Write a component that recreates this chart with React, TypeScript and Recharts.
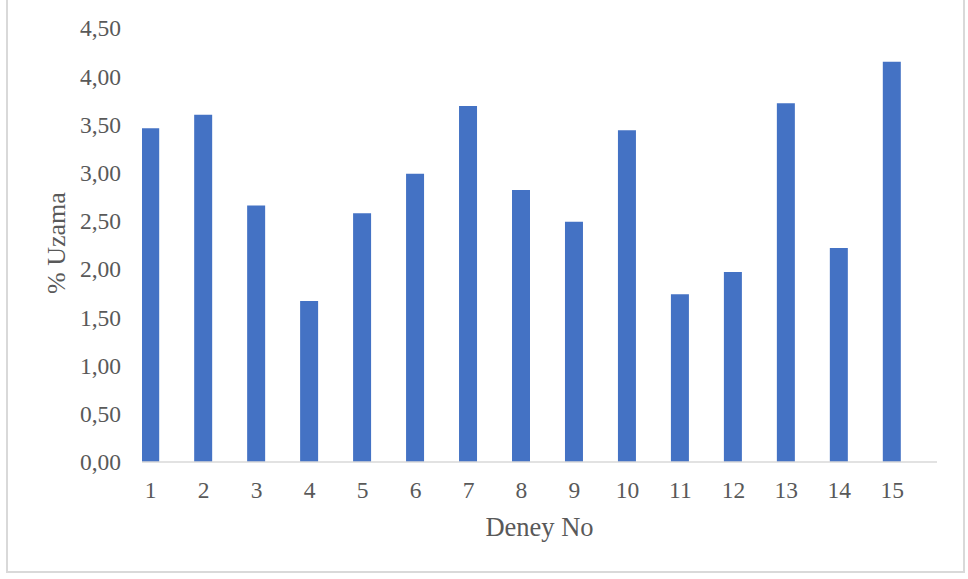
import React from 'react';
import { BarChart, Bar, XAxis, YAxis } from 'recharts';

const deneyNo: number[] = [1, 2, 3, 4, 5, 6, 7, 8, 9, 10, 11, 12, 13, 14, 15];
const uzama: number[] = [3.46, 3.6, 2.66, 1.67, 2.58, 2.99, 3.69, 2.82, 2.49, 3.44, 1.74, 1.97, 3.72, 2.22, 4.15];
const yTicks: number[] = [0, 0.5, 1, 1.5, 2, 2.5, 3, 3.5, 4, 4.5];

const data = deneyNo.map((d, i) => ({ deney: d, uzama: uzama[i] }));

const FONT = '"Liberation Serif", "Times New Roman", serif';
const TEXT = '#595959';

export default function App() {
  return (
    <div style={{ position: 'absolute', left: 0, top: 0, width: 968, height: 579, background: '#fff', overflow: 'hidden' }}>
      <div
        style={{
          position: 'absolute',
          left: 6,
          top: -4,
          width: 959,
          height: 577,
          border: '2px solid #d9d9d9',
          boxSizing: 'border-box',
        }}
      />
      <div style={{ position: 'absolute', left: 0, top: 0 }}>
        <BarChart
          width={968}
          height={579}
          data={data}
          margin={{ top: 28, right: 31, bottom: 0, left: 0 }}
        >
          <XAxis
            dataKey="deney"
            type="number"
            domain={[0.836, 15.844]}
            ticks={deneyNo}
            interval={0}
            allowDataOverflow
            height={117}
            tickLine={false}
            tickSize={0}
            tickMargin={19}
            axisLine={{ stroke: '#d9d9d9', strokeWidth: 1.5 }}
            tick={{ fill: TEXT, fontSize: 23.5, fontFamily: FONT }}
            label={{
              value: 'Deney No',
              position: 'insideBottom',
              offset: 43,
              fill: TEXT,
              fontSize: 26.5,
              fontFamily: FONT,
            }}
          />
          <YAxis
            type="number"
            domain={[0, 4.5]}
            ticks={yTicks}
            interval={0}
            width={142}
            axisLine={false}
            tickLine={false}
            tickSize={0}
            tickMargin={21}
            tickFormatter={(v: number) => v.toFixed(2).replace('.', ',')}
            tick={{ fill: TEXT, fontSize: 23.5, fontFamily: FONT }}
            label={{
              value: '% Uzama',
              angle: -90,
              position: 'center',
              dx: -15,
              dy: -2,
              fill: TEXT,
              fontSize: 26,
              fontFamily: FONT,
            }}
          />
          <Bar dataKey="uzama" fill="#4472C4" barSize={18} isAnimationActive={false} />
        </BarChart>
      </div>
    </div>
  );
}
